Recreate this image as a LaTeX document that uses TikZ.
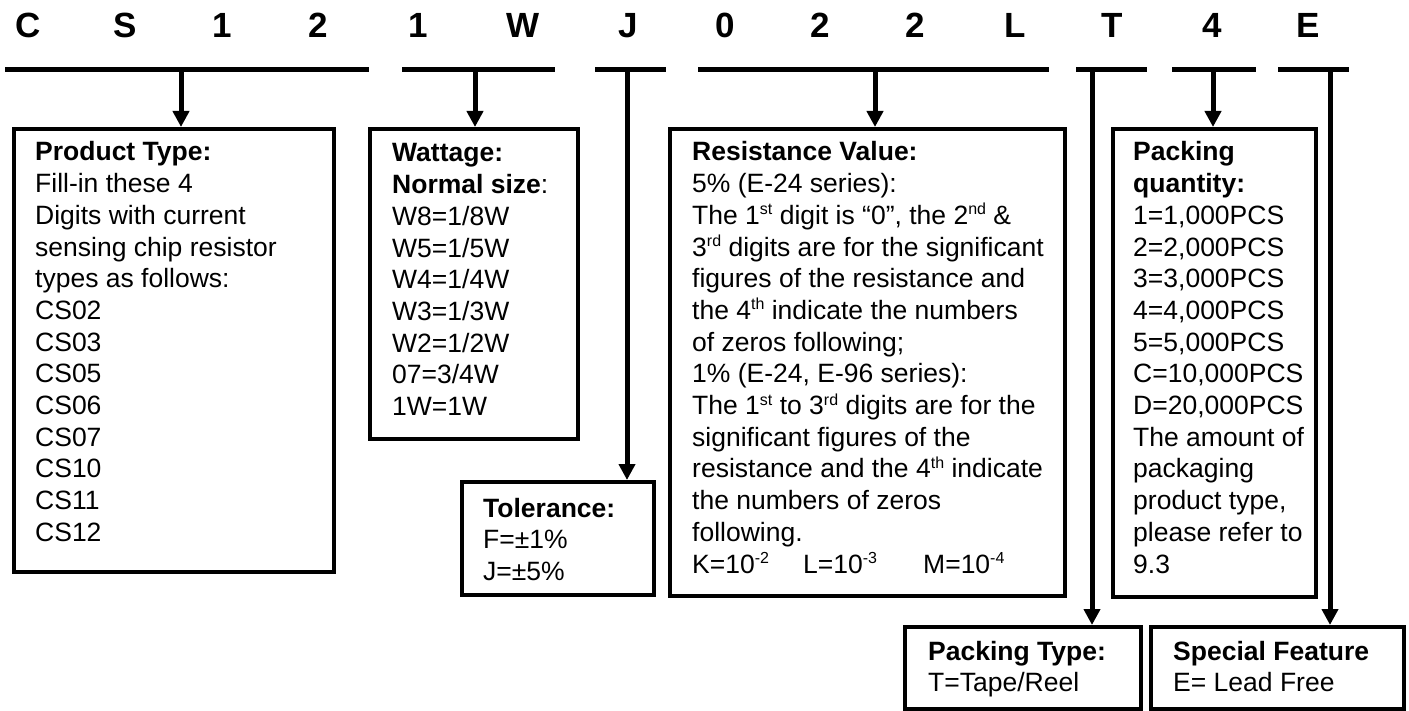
\documentclass[tikz,border=0pt]{standalone}
\usepackage{fontspec}
\setmainfont{Liberation Sans}
\usetikzlibrary{arrows.meta}
\newcommand\supr[1]{\raisebox{0.36em}{\fontsize{16}{16}\selectfont #1}}
\newcommand\boxtext[1]{\fontsize{26.5}{31.7}\selectfont\begin{tabular}[t]{@{}l@{}}#1\end{tabular}}
\begin{document}
\begin{tikzpicture}[x=1pt,y=-1pt,
  box/.style={draw, line width=3.6pt, anchor=north west, inner sep=0pt},
  txt/.style={anchor=base west, inner sep=0pt},
  code/.style={anchor=base, inner sep=0pt, font=\fontsize{35}{40}\selectfont\bfseries},
  bar/.style={line width=5pt},
  arr/.style={line width=5pt, -{Triangle[width=16pt,length=16pt]}}]
\useasboundingbox (0,0) rectangle (1409,711);
% code letters
\foreach \ch/\xx [count=\i] in {C/28,S/125,1/222,2/318,1/418,W/523,J/628,0/725,2/820,2/915,L/1015,T/1112,4/1212,E/1308}
  \node[code] (c\i) at (\xx,38) {\ch};
% bars
\draw[bar] (5,70) -- (369,70);
\draw[bar] (402,70) -- (555,70);
\draw[bar] (595,70) -- (666,70);
\draw[bar] (698,70) -- (1049,70);
\draw[bar] (1076,70) -- (1147,70);
\draw[bar] (1172,70) -- (1256,70);
\draw[bar] (1278,70) -- (1349,70);
% boxes
\node[box, minimum width=320pt, minimum height=443pt] (pt) at (12,127) {};
\node[box, minimum width=208pt, minimum height=310pt] (wt) at (368,127) {};
\node[box, minimum width=192pt, minimum height=113pt] (tol) at (460,480) {};
\node[box, minimum width=395pt, minimum height=467pt] (res) at (668,127) {};
\node[box, minimum width=203pt, minimum height=468pt] (pq) at (1111,127) {};
\node[box, minimum width=236pt, minimum height=82pt] (ptype) at (903,625) {};
\node[box, minimum width=253pt, minimum height=82pt] (sf) at (1149,625) {};
% texts
\node[txt] (ptT) at (35,161) {\boxtext{\textbf{Product Type:}\\Fill-in these 4\\Digits with current\\sensing chip resistor\\types as follows:\\CS02\\CS03\\CS05\\CS06\\CS07\\CS10\\CS11\\CS12}};
\node[txt] (wtT) at (392,162) {\boxtext{\textbf{Wattage:}\\\textbf{Normal size}:\\W8=1/8W\\W5=1/5W\\W4=1/4W\\W3=1/3W\\W2=1/2W\\07=3/4W\\1W=1W}};
\node[txt] (tolT) at (483,517) {\boxtext{\textbf{Tolerance:}\\F=±1\%\\J=±5\%}};
\node[txt] (resT) at (692,161) {\boxtext{\textbf{Resistance Value:}\\5\% (E-24 series):\\The 1\supr{st} digit is “0”, the 2\supr{nd} \&\\3\supr{rd} digits are for the significant\\figures of the resistance and\\the 4\supr{th} indicate the numbers\\of zeros following;\\1\% (E-24, E-96 series):\\The 1\supr{st} to 3\supr{rd} digits are for the\\significant figures of the\\resistance and the 4\supr{th} indicate\\the numbers of zeros\\following.\\\makebox[111pt][l]{K=10\supr{-2}}\makebox[120pt][l]{L=10\supr{-3}}M=10\supr{-4}}};
\node[txt] (pqT) at (1133,161) {\boxtext{\textbf{Packing}\\\textbf{quantity:}\\1=1,000PCS\\2=2,000PCS\\3=3,000PCS\\4=4,000PCS\\5=5,000PCS\\C=10,000PCS\\D=20,000PCS\\The amount of\\packaging\\product type,\\please refer to\\9.3}};
\node[txt] (ptypeT) at (928,660) {\boxtext{\textbf{Packing Type:}\\T=Tape/Reel}};
\node[txt] (sfT) at (1173,660) {\boxtext{\textbf{Special Feature}\\E= Lead Free}};
% connectors
\coordinate (s1) at (181,70);
\coordinate (s2) at (475,70);
\coordinate (s3) at (627,70);
\coordinate (s4) at (875,70);
\coordinate (s5) at (1092,70);
\coordinate (s6) at (1213,70);
\coordinate (s7) at (1330,70);
\draw[arr] (s1) -- (s1 |- pt.north);
\draw[arr] (s2) -- (s2 |- wt.north);
\draw[arr] (s3) -- (s3 |- tol.north);
\draw[arr] (s4) -- (s4 |- res.north);
\draw[arr] (s5) -- (s5 |- ptype.north);
\draw[arr] (s6) -- (s6 |- pq.north);
\draw[arr] (s7) -- (s7 |- sf.north);
\end{tikzpicture}
\end{document}
